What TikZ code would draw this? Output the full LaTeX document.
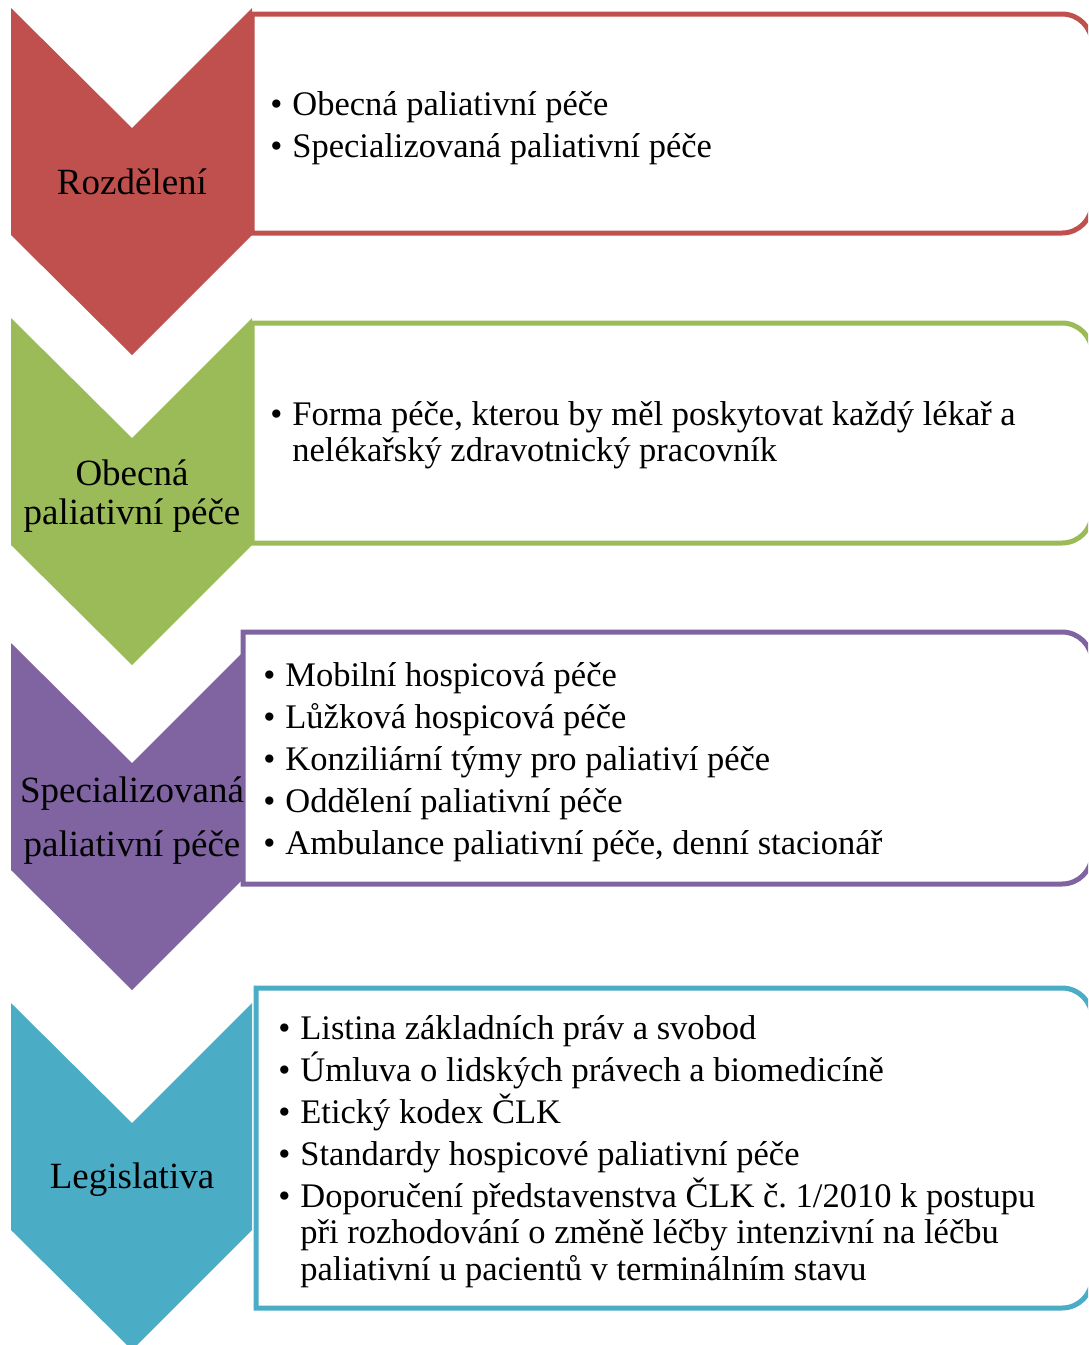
\documentclass[tikz,border=0pt]{standalone}
\usepackage{fontspec}
\setmainfont{Liberation Serif}
\frenchspacing

\definecolor{rozred}{HTML}{C0504D}
\definecolor{obgreen}{HTML}{9BBB59}
\definecolor{spviolet}{HTML}{8064A2}
\definecolor{legcyan}{HTML}{4BACC6}

\newcommand{\bul}{\makebox[11pt][l]{\textbullet}}
\newcommand{\hang}{\hspace*{11pt}}
\newcommand{\tp}{\rule{0pt}{14pt}}
\newcommand{\tightlines}{\setlength{\lineskiplimit}{-20pt}\setlength{\lineskip}{0pt}}

\tikzset{
  chevlabel/.style={anchor=north, inner sep=0pt, align=center,
    font=\fontsize{18.5}{19.5}\selectfont},
  infobox/.style={line width=2.5pt, fill=white},
  bullets/.style={anchor=north west, inner sep=0pt, align=left,
    font=\fontsize{17.25}{18.25}\selectfont\tightlines},
}

\begin{document}
\begin{tikzpicture}[x=0.5pt,y=-0.5pt]

    \useasboundingbox (0,0) rectangle (1088,1345);
    \clip (0,0) rectangle (1088,1345);

    % Chevrons
    \foreach \top/\col in {8/rozred, 318/obgreen, 643/spviolet, 1003/legcyan}
        \fill[\col] (11,\top) -- (132,\top+120) -- (252,\top) -- (252,\top+227)
            -- (132,\top+347) -- (11,\top+227) -- cycle;

    % Boxes
    \draw[infobox, draw=rozred] (252,14) [rounded corners=15pt] -- (1092,14)
        -- (1092,233) [sharp corners] -- (252,233) -- cycle;
    \draw[infobox, draw=obgreen] (252,323) [rounded corners=15pt] -- (1092,323)
        -- (1092,543) [sharp corners] -- (252,543) -- cycle;
    \draw[infobox, draw=spviolet] (243,632) [rounded corners=15pt] -- (1092,632)
        -- (1092,884) [sharp corners] -- (243,884) -- cycle;
    \draw[infobox, draw=legcyan] (256,988) [rounded corners=15pt] -- (1092,988)
        -- (1092,1308) [sharp corners] -- (256,1308) -- cycle;

    % Labels
    \node[chevlabel] (rozdeleni) at (132,166) {\tp Rozdělení};
    \node[chevlabel] (obecna) at (132,457) {\tp Obecná\\paliativní péče};
    \node[chevlabel] (special) at (132,774) {\tp Specializovaná\\[7.5pt]paliativní péče};
    \node[chevlabel] (legis) at (132,1160) {\tp Legislativa};

    % Lists
    \node[bullets] (list1) at (270,87) {\tp\bul Obecná paliativní péče\\[2.75pt]
        \bul Specializovaná paliativní péče};
    \node[bullets] (list2) at (270,397) {\tp\bul Forma péče, kterou by měl poskytovat každý lékař a\\
        \hang nelékařský zdravotnický pracovník};
    \node[bullets] (list3) at (263,658) {\tp\bul Mobilní hospicová péče\\[2.75pt]
        \bul Lůžková hospicová péče\\[2.75pt]
        \bul Konziliární týmy pro paliativí péče\\[2.75pt]
        \bul Oddělení paliativní péče\\[2.75pt]
        \bul Ambulance paliativní péče, denní stacionář};
    \node[bullets] (list4) at (278,1011) {\tp\bul Listina základních práv a svobod\\[2.75pt]
        \bul Úmluva o lidských právech a biomedicíně\\[2.75pt]
        \bul Etický kodex ČLK\\[2.75pt]
        \bul Standardy hospicové paliativní péče\\[2.75pt]
        \bul Doporučení představenstva ČLK č. 1/2010 k postupu\\
        \hang při rozhodování o změně léčby intenzivní na léčbu\\
        \hang paliativní u pacientů v terminálním stavu};

\end{tikzpicture}
\end{document}
